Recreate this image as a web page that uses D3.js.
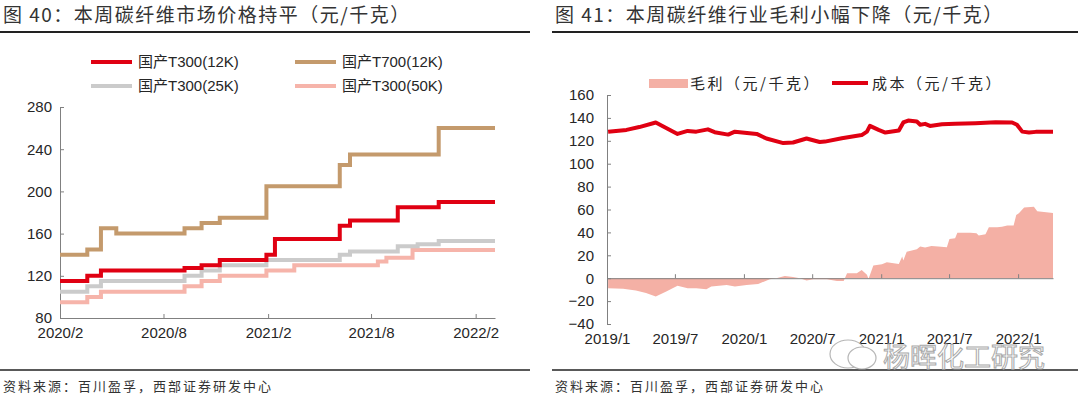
<!DOCTYPE html>
<html>
<head>
<meta charset="utf-8">
<script src="https://cdn.jsdelivr.net/npm/d3@7"></script>
<style>
  html, body { margin: 0; padding: 0; background: #fff; }
  svg { display: block; }
  text { font-family: "Liberation Sans", Arial, "Noto Sans CJK SC", sans-serif; fill: #262626; }
  .cjk { font-family: "Noto Sans CJK SC", sans-serif; }
  .axis path, .axis line { stroke: #808080; stroke-width: 1; }
  .axis text { font-size: 15px; fill: #262626; }
</style>
</head>
<body>
<div id="chart"></div>
<script>
const WIDTH = 1080, HEIGHT = 405;

// left chart: dates where any price changes, values hold until the next date
const priceDates = ["2020-02-01","2020-03-20","2020-04-13","2020-05-10","2020-09-07","2020-10-07",
  "2020-11-08","2021-01-29","2021-02-13","2021-03-19","2021-06-07","2021-06-25","2021-08-13",
  "2021-08-28","2021-09-17","2021-10-13","2021-10-22","2021-11-28","2022-03-07"];
const t300_12k = [115,120,125,125,127.5,130,135,140,155,155,167.5,172.5,172.5,172.5,185,185,185,190,190];
const t700_12k = [140,145,165,160,165,170,175,205,205,205,225,235,235,235,235,235,235,260,260];
const t300_25k = [105,110,115,115,120,125,130,135,135,135,140,143,143,143,148,148,150,153,153];
const t300_50k = [95,100,105,105,110,115,120,125,125,130,130,130,133.5,137,137,144.5,144.5,144.5,144.5];
const priceTicks = ["2020-02-01","2020-08-01","2021-02-01","2021-08-01","2022-02-01"];
const priceYTicks = [80,120,160,200,240,280];

// right chart
const costDates = ["2019-01-04","2019-02-22","2019-03-28","2019-05-11","2019-07-08","2019-08-04",
  "2019-08-27","2019-09-27","2019-10-15","2019-11-20","2019-12-08","2020-02-04","2020-03-01",
  "2020-04-15","2020-05-11","2020-06-16","2020-07-21","2020-08-04","2020-09-18","2020-11-10",
  "2020-11-24","2020-12-02","2020-12-25","2021-01-12","2021-02-17","2021-03-01","2021-03-14",
  "2021-04-06","2021-04-15","2021-04-28","2021-05-11","2021-06-12","2021-07-17","2021-09-09",
  "2021-11-02","2021-12-16","2021-12-29","2022-01-12","2022-01-30","2022-02-17","2022-04-04"];
const costValues = [128,129.5,132,136,126,128.6,128,130,127.5,125.4,128,126,122,118,118.5,122,119,
  119.3,122.3,125,128,133,129.5,127.2,129,136,137.7,136.8,134,134.8,133,134.5,134.8,135.4,136.2,
  136,134,128,127.2,127.8,128];
const profitDates = ["2019-01-04","2019-02-13","2019-03-19","2019-04-15","2019-05-11","2019-06-08",
  "2019-07-08","2019-08-04","2019-08-27","2019-09-23","2019-10-06","2019-11-16","2019-12-08",
  "2020-01-08","2020-02-08","2020-03-10","2020-03-27","2020-04-19","2020-05-11","2020-05-29",
  "2020-06-16","2020-07-04","2020-08-09","2020-09-05","2020-09-23","2020-10-02","2020-10-28",
  "2020-11-10","2020-11-24","2020-11-28","2020-12-02","2020-12-11","2021-01-03","2021-01-16",
  "2021-02-17","2021-02-26","2021-03-01","2021-03-10","2021-04-06","2021-04-15","2021-04-28",
  "2021-05-15","2021-06-02","2021-06-25","2021-07-02","2021-07-17","2021-07-23","2021-08-27",
  "2021-09-12","2021-09-18","2021-10-06","2021-10-15","2021-11-06","2021-11-19","2021-12-03",
  "2021-12-20","2021-12-27","2022-01-03","2022-01-17","2022-02-12","2022-02-21","2022-04-04"];
const profitValues = [-8.7,-9.3,-10.8,-13,-16,-11.7,-6.7,-8.7,-8.7,-9.6,-7.3,-5.9,-7.3,-5.9,-5,
  -0.9,0,2,1,0,-2,-1,-1,-2.4,-2.4,4.3,4.3,7.2,3,-0.5,2.9,11,12.2,14,12.5,18.9,15.5,23.2,25.3,
  27.6,26.8,28.2,27.6,27,34.3,35,39.8,39.8,39.3,37.2,38.4,44.5,44.5,45,46,46,55.3,56.8,61.7,
  62.5,58.5,57];
const marginTicks = ["2019-01-01","2019-07-01","2020-01-01","2020-07-01","2021-01-01","2021-07-01","2022-01-01"];
const marginYTicks = [-40,-20,0,20,40,60,80,100,120,140,160];

const parse = d3.timeParse("%Y-%m-%d");
const fmt = d3.timeFormat("%Y/%-m");

const svg = d3.select("#chart").append("svg")
  .attr("width", WIDTH).attr("height", HEIGHT);

// titles, rules, sources
function frame(x0, x1, title) {
  svg.append("text").attr("class", "cjk").attr("x", x0 + 3).attr("y", 22)
    .style("font-size", "19px").style("letter-spacing", "1.5px").style("fill", "#333").text(title);
  svg.append("line").attr("x1", x0).attr("x2", x1).attr("y1", 32).attr("y2", 32)
    .attr("stroke", "#222").attr("stroke-width", 2);
  svg.append("line").attr("x1", x0).attr("x2", x1).attr("y1", 370).attr("y2", 370)
    .attr("stroke", "#222").attr("stroke-width", 1.5);
  svg.append("text").attr("class", "cjk").attr("x", x0 + 3).attr("y", 391)
    .style("font-size", "13px").style("letter-spacing", "2px").style("fill", "#333")
    .text("资料来源：百川盈孚，西部证券研发中心");
}
frame(0, 530, "图 40：本周碳纤维市场价格持平（元/千克）");
frame(552, 1078, "图 41：本周碳纤维行业毛利小幅下降（元/千克）");

// ---------- left chart ----------
const x1 = d3.scaleTime().domain([parse("2020-02-01"), parse("2022-03-07")]).range([60, 495]);
const y1 = d3.scaleLinear().domain([80, 280]).range([318, 107]);

const gL = svg.append("g");
gL.append("g").attr("class", "axis").attr("transform", "translate(60,0)")
  .call(d3.axisLeft(y1).tickValues(priceYTicks).tickSize(-4).tickSizeOuter(0).tickPadding(8));
gL.append("g").attr("class", "axis").attr("transform", "translate(0,318)")
  .call(d3.axisBottom(x1).tickValues(priceTicks.map(parse)).tickFormat(fmt)
    .tickSize(-4).tickSizeOuter(0).tickPadding(9));

const series = [
  { name: "国产T300(12K)", values: t300_12k, color: "#E00012" },
  { name: "国产T700(12K)", values: t700_12k, color: "#C49A6C" },
  { name: "国产T300(25K)", values: t300_25k, color: "#CBCBCB" },
  { name: "国产T300(50K)", values: t300_50k, color: "#F6B4AA" },
];
const stepLine = d3.line().curve(d3.curveStepAfter)
  .x((d, i) => x1(parse(priceDates[i]))).y(d => y1(d));
[...series].reverse().forEach(s => {
  gL.append("path").attr("d", stepLine(s.values)).attr("fill", "none")
    .attr("stroke", s.color).attr("stroke-width", 4);
});

series.forEach((s, i) => {
  const lx = i % 2 === 0 ? 91 : 295, ly = i < 2 ? 62 : 86;
  gL.append("line").attr("x1", lx).attr("x2", lx + 41).attr("y1", ly).attr("y2", ly)
    .attr("stroke", s.color).attr("stroke-width", 4);
  gL.append("text").attr("x", lx + 47).attr("y", ly + 5).style("font-size", "15px").text(s.name);
});

// ---------- right chart ----------
const x2 = d3.scaleTime().domain([parse("2019-01-01"), parse("2022-04-04")]).range([607, 1053]);
const y2 = d3.scaleLinear().domain([-40, 160]).range([324, 95]);

const gR = svg.append("g");
gR.append("path")
  .attr("d", d3.area().x((d, i) => x2(parse(profitDates[i]))).y0(y2(0)).y1(d => y2(d))(profitValues))
  .attr("fill", "#F4B0A5");

gR.append("g").attr("class", "axis").attr("transform", "translate(607,0)")
  .call(d3.axisLeft(y2).tickValues(marginYTicks).tickSize(-4).tickSizeOuter(0).tickPadding(13));
const xr = gR.append("g").attr("class", "axis").attr("transform", `translate(0,${y2(0)})`)
  .call(d3.axisBottom(x2).tickValues(marginTicks.map(parse)).tickFormat(fmt)
    .tickSize(-4).tickSizeOuter(0));
xr.selectAll("text").attr("y", y2(-40) - y2(0) + 9);

gR.append("path")
  .attr("d", d3.line().x((d, i) => x2(parse(costDates[i]))).y(d => y2(d))(costValues))
  .attr("fill", "none").attr("stroke", "#E00012").attr("stroke-width", 4)
  .attr("stroke-linejoin", "round");

// legend
gR.append("rect").attr("x", 649).attr("y", 79).attr("width", 39).attr("height", 9).attr("fill", "#F4B0A5");
gR.append("text").attr("class", "cjk").attr("x", 690).attr("y", 89)
  .style("font-size", "15px").style("letter-spacing", "2.5px").text("毛利（元/千克）");
gR.append("line").attr("x1", 832).attr("x2", 868).attr("y1", 83).attr("y2", 83)
  .attr("stroke", "#E00012").attr("stroke-width", 4);
gR.append("text").attr("class", "cjk").attr("x", 872).attr("y", 89)
  .style("font-size", "15px").style("letter-spacing", "2.5px").text("成本（元/千克）");

// watermark
const wm = svg.append("g").attr("opacity", 0.85);
wm.append("ellipse").attr("cx", 848).attr("cy", 354).attr("rx", 18).attr("ry", 14)
  .attr("fill", "#fff").attr("stroke", "#aaa").attr("stroke-width", 1.2);
wm.append("ellipse").attr("cx", 862).attr("cy", 358).attr("rx", 14).attr("ry", 11)
  .attr("fill", "#fff").attr("stroke", "#aaa").attr("stroke-width", 1.2);
wm.append("text").attr("class", "cjk").attr("x", 883).attr("y", 367)
  .style("font-size", "27px").style("fill", "#fff").attr("stroke", "#999").attr("stroke-width", 1)
  .text("杨晖化工研究");
</script>
</body>
</html>
